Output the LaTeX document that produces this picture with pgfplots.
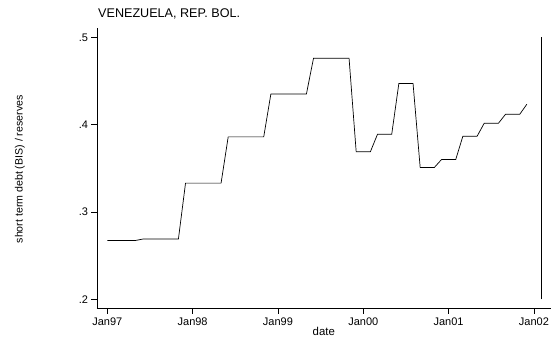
\documentclass[border=0pt]{standalone}
\usepackage{pgfplots}
\pgfplotsset{compat=1.18}
\usepackage{fontspec}
\setmainfont{Liberation Sans}
\begin{document}
\begin{tikzpicture}
\begin{axis}[
  at={(0,0)}, anchor=south west,
  scale only axis, width=454pt, height=280pt,
  xmin=-1.45, xmax=62.4, ymin=0.1897, ymax=0.5103,
  axis x line*=bottom, axis y line*=left,
  axis line style={black, line width=0.7pt},
  tick align=outside, major tick length=5.5pt,
  tick style={black, line width=0.7pt},
  xtick={0,12,24,36,48,60},
  xticklabels={Jan97,Jan98,Jan99,Jan00,Jan01,Jan02},
  ytick={0.2,0.3,0.4,0.5},
  yticklabels={.2,.3,.4,.5},
  ticklabel style={font=\fontsize{11}{13}\selectfont},
  /pgf/number format/assume math mode=true,
  clip=false,
]
\addplot[black, line width=0.7pt] coordinates {
(0,0.2674)(1,0.2674)(2,0.2674)(3,0.2674)(4,0.2674)
(5,0.269)(6,0.269)(7,0.269)(8,0.269)(9,0.269)(10,0.269)
(11,0.333)(12,0.333)(13,0.333)(14,0.333)(15,0.333)(16,0.333)
(17,0.386)(18,0.386)(19,0.386)(20,0.386)(21,0.386)(22,0.386)
(23,0.435)(24,0.435)(25,0.435)(26,0.435)(27,0.435)(28,0.435)
(29,0.476)(30,0.476)(31,0.476)(32,0.476)(33,0.476)(34,0.476)
(35,0.369)(36,0.369)(37,0.369)
(38,0.389)(39,0.389)(40,0.389)
(41,0.447)(42,0.447)(43,0.447)
(44,0.351)(45,0.351)(46,0.351)
(47,0.360)(48,0.360)(49,0.360)
(50,0.3866)(51,0.3866)(52,0.3866)
(53,0.4015)(54,0.4015)(55,0.4015)
(56,0.4118)(57,0.4118)(58,0.4118)
(59,0.4233)
};
\addplot[black, line width=0.7pt] coordinates {(61,0.2)(61,0.5)};
\end{axis}
\node[anchor=west, inner sep=0pt, font=\fontsize{12.6}{15}\selectfont] at (1pt,294.3pt) {VENEZUELA, REP. BOL.};
\node[rotate=90, inner sep=0pt, font=\fontsize{10.6}{13}\selectfont] at (-77pt,139pt) {short term debt (BIS) / reserves};
\node[inner sep=0pt, font=\fontsize{11.4}{13}\selectfont] at (226.8pt,-23.4pt) {date};
\path[use as bounding box] (-97pt,-29.7pt) rectangle (461pt,308.3pt);
\end{tikzpicture}
\end{document}
